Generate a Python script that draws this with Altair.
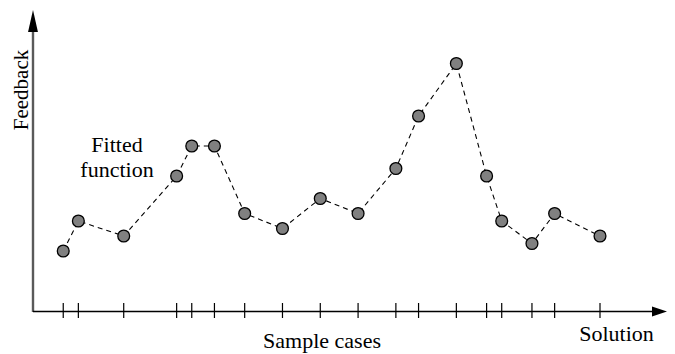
import altair as alt
import pandas as pd

# Sample cases (x position on a grid) and feedback values (y)
case_x = [4, 6, 12, 19, 21, 24, 28, 33, 38, 43, 48, 51, 56, 60, 62, 66, 69, 75]
feedback = [8, 12, 10, 18, 22, 22, 13, 11, 15, 13, 19, 26, 33, 18, 12, 9, 13, 10]

df = pd.DataFrame({"x": case_x, "y": feedback})
one = pd.DataFrame({"k": [0]})

W, H = 659, 346
FONT = "Liberation Serif"

xs = alt.Scale(domain=[0, 84], range=[25, 25 + 84 * 7.56])
ys = alt.Scale(domain=[0, 40], range=[303, 3])

X = alt.X("x:Q", scale=xs, axis=None)
Y = alt.Y("y:Q", scale=ys, axis=None)

line = alt.Chart(df).mark_line(stroke="black", strokeWidth=1.1, strokeDash=[5, 4]).encode(x=X, y=Y)
pts = alt.Chart(df).mark_point(filled=True, fill="#808080", stroke="black", strokeWidth=1.3,
                               size=140, opacity=1).encode(x=X, y=Y)
ticks = alt.Chart(df).mark_rule(stroke="black", strokeWidth=1.2).encode(
    x=X, y=alt.value(295), y2=alt.value(310))

xaxis = alt.Chart(one).mark_rule(stroke="black", strokeWidth=1.4).encode(
    x=alt.value(25), x2=alt.value(650), y=alt.value(303.5))
yaxis = alt.Chart(one).mark_rule(stroke="#5a5a5a", strokeWidth=2.4).encode(
    x=alt.value(25), y=alt.value(304), y2=alt.value(20))
xarrow = alt.Chart(one).mark_point(shape="M0,0 L-2,-0.67 L-2,0.67 Z", filled=True, fill="black",
                                   size=225, opacity=1).encode(
    x=alt.value(659), y=alt.value(303.5))
yarrow = alt.Chart(one).mark_point(shape="M0,0 L-0.45,2 L0.45,2 Z", filled=True, fill="black",
                                   size=484, opacity=1).encode(
    x=alt.value(25), y=alt.value(2))

t_feedback = alt.Chart(one).mark_text(text="Feedback", font=FONT, fontSize=21, angle=270,
                                      align="center", baseline="alphabetic", color="black").encode(
    x=alt.value(20), y=alt.value(82))
t_fitted = alt.Chart(one).mark_text(text=["Fitted", "function"], font=FONT, fontSize=22, lineHeight=25,
                                    align="center", baseline="alphabetic", color="black").encode(
    x=alt.value(109), y=alt.value(144))
t_sample = alt.Chart(one).mark_text(text="Sample cases", font=FONT, fontSize=22,
                                    align="center", baseline="alphabetic", color="black").encode(
    x=alt.value(314), y=alt.value(340))
t_solution = alt.Chart(one).mark_text(text="Solution", font=FONT, fontSize=22,
                                      align="center", baseline="alphabetic", color="black").encode(
    x=alt.value(608.5), y=alt.value(333))

chart = alt.layer(
    yaxis, xaxis, ticks, line, pts, xarrow, yarrow,
    t_feedback, t_fitted, t_sample, t_solution
).properties(
    width=W, height=H,
    autosize=alt.AutoSizeParams(type="none"),
    padding=0,
).configure_view(stroke=None)

chart.save("out.html", embed_options={"renderer": "svg", "actions": False})
